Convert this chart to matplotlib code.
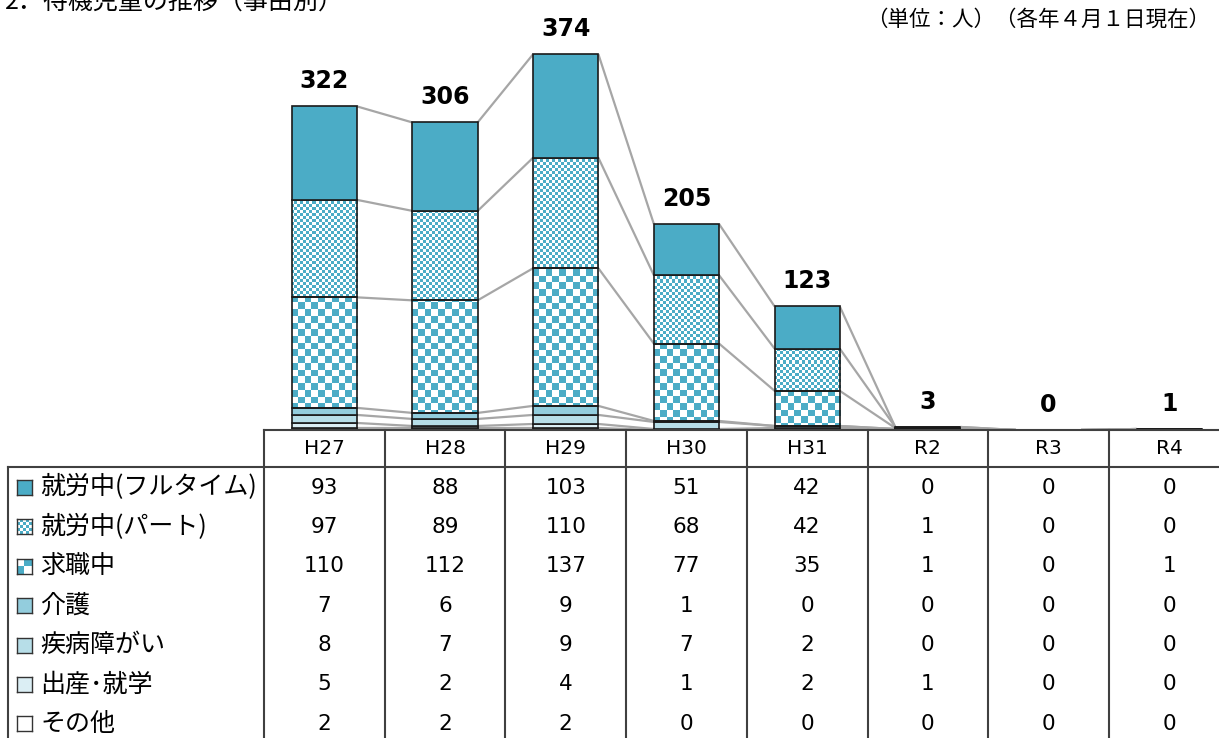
import matplotlib
matplotlib.use("Agg")
import matplotlib.pyplot as plt
import numpy as np
from matplotlib.colors import ListedColormap
from matplotlib.lines import Line2D

plt.rcParams['font.family'] = ['DejaVu Sans', 'Noto Sans CJK JP']

years = ["H27", "H28", "H29", "H30", "H31", "R2", "R3", "R4"]
series_names = ["就労中(フルタイム)", "就労中(パート)", "求職中", "介護",
                "疾病障がい", "出産･就学", "その他"]
fulltime = [93, 88, 103, 51, 42, 0, 0, 0]
part = [97, 89, 110, 68, 42, 1, 0, 0]
seeking = [110, 112, 137, 77, 35, 1, 0, 1]
care = [7, 6, 9, 1, 0, 0, 0, 0]
illness = [8, 7, 9, 7, 2, 0, 0, 0]
birth = [5, 2, 4, 1, 2, 1, 0, 0]
other = [2, 2, 2, 0, 0, 0, 0, 0]

table_rows = [fulltime, part, seeking, care, illness, birth, other]
# stacking order, bottom to top
stack = [other, birth, illness, care, seeking, part, fulltime]

BLUE = "#4BACC6"
# fill per stacked series: colour or checker cell size in px
fills = ["white", "#DBEEF4", "#B7DEE8", "#93CDDD", ("check", 6.7), ("check", 3.0), BLUE]
legend_fills = [BLUE, ("check", 3.0), ("check", 6.7), "#93CDDD", "#B7DEE8", "#DBEEF4", "white"]

W, H = 1219, 738
fig = plt.figure(figsize=(W / 100, H / 100), dpi=100)


def fx(px):
    return px / W


def fy(py):
    return 1 - py / H


col_w = 120.7
left_px = 264
base_px = 430
ymax = 380
ax_h = ymax * 1.005
ax = fig.add_axes([fx(left_px), fy(base_px), 8 * col_w / W, ax_h / H])
ax.set_xlim(0, 8)
ax.set_ylim(0, ymax)
ax.axis("off")

cmap = ListedColormap(["white", BLUE])


def checker(cell):
    nx = int(round(8 * col_w / cell))
    ny = int(round(ax_h / cell))
    return (np.add.outer(np.arange(ny), np.arange(nx)) % 2).astype(float)


x = np.arange(len(years)) + 0.5
bw = 0.54
bottoms = np.zeros(len(years))
tops_all = []
for vals, fill in zip(stack, fills):
    vals = np.array(vals, dtype=float)
    if isinstance(fill, tuple):
        bars = ax.bar(x, vals, bw, bottom=bottoms, facecolor="none",
                      edgecolor="#1a1a1a", linewidth=1.2, zorder=3)
        img = checker(fill[1])
        for b, v in zip(bars, vals):
            if v <= 0:
                continue
            im = ax.imshow(img, cmap=cmap, extent=(0, 8, 0, ymax), aspect="auto",
                           interpolation="nearest", zorder=2, origin="lower")
            im.set_clip_path(b)
    else:
        ax.bar(x, vals, bw, bottom=bottoms, color=fill,
               edgecolor="#1a1a1a", linewidth=1.2, zorder=3)
    bottoms = bottoms + vals
    tops_all.append(bottoms.copy())

# series lines between bars
for tops in tops_all:
    for i in range(len(years) - 1):
        ax.plot([x[i] + bw / 2, x[i + 1] - bw / 2], [tops[i], tops[i + 1]],
                color="#A6A6A6", linewidth=1.6, zorder=1, solid_capstyle="butt")

totals = bottoms
for xi, t in zip(x, totals):
    ax.annotate(f"{int(t)}", (xi, t), xytext=(0, 13), textcoords="offset points",
                ha="center", va="baseline", fontsize=17, fontweight="bold")

# ---- data table ----
lc = "#404040"
lw = 1.5
right_px = left_px + 8 * col_w
head_px = 467
fig.add_artist(Line2D([fx(left_px), fx(right_px)], [fy(base_px), fy(base_px)], color=lc, lw=lw))
fig.add_artist(Line2D([fx(8), fx(right_px)], [fy(head_px), fy(head_px)], color=lc, lw=lw))
fig.add_artist(Line2D([fx(8), fx(8)], [fy(head_px), fy(H + 5)], color=lc, lw=lw))
for k in range(9):
    xp = left_px + k * col_w
    fig.add_artist(Line2D([fx(xp), fx(xp)], [fy(base_px), fy(H + 5)], color=lc, lw=lw))

for k, yr in enumerate(years):
    fig.text(fx(left_px + (k + 0.5) * col_w), fy(449), yr, ha="center", va="center", fontsize=14.5)

row_y0 = 487.5
row_step = 39.4
for r, (name, vals, fill) in enumerate(zip(series_names, table_rows, legend_fills)):
    yc = row_y0 + r * row_step
    fig.text(fx(40), fy(yc), name, ha="left", va="center", fontsize=18,
             family=["Noto Sans CJK JP", "DejaVu Sans"])
    for k, v in enumerate(vals):
        fig.text(fx(left_px + (k + 0.5) * col_w), fy(yc), str(v),
                 ha="center", va="center", fontsize=15.5)
    # legend key
    s = 15
    kax = fig.add_axes([fx(17), fy(yc + s / 2), s / W, s / H])
    kax.set_xticks([])
    kax.set_yticks([])
    for sp in kax.spines.values():
        sp.set_color("#333333")
        sp.set_linewidth(1.0)
    if isinstance(fill, tuple):
        n = max(2, int(round(s / fill[1])))
        kax.imshow(np.add.outer(np.arange(n), np.arange(n)) % 2, cmap=cmap,
                   aspect="auto", interpolation="nearest")
    else:
        kax.set_facecolor(fill)

# header texts
fig.text(fx(5), fy(9), "2．待機児童の推移（事由別）", ha="left", va="baseline",
         fontsize=18, family=["Noto Sans CJK JP", "DejaVu Sans"])
fig.text(fx(866), fy(20), "（単位：人）（各年４月１日現在）", ha="left", va="center",
         fontsize=15.5, family=["Noto Sans CJK JP", "DejaVu Sans"])

fig.savefig("out.png", dpi=100)
